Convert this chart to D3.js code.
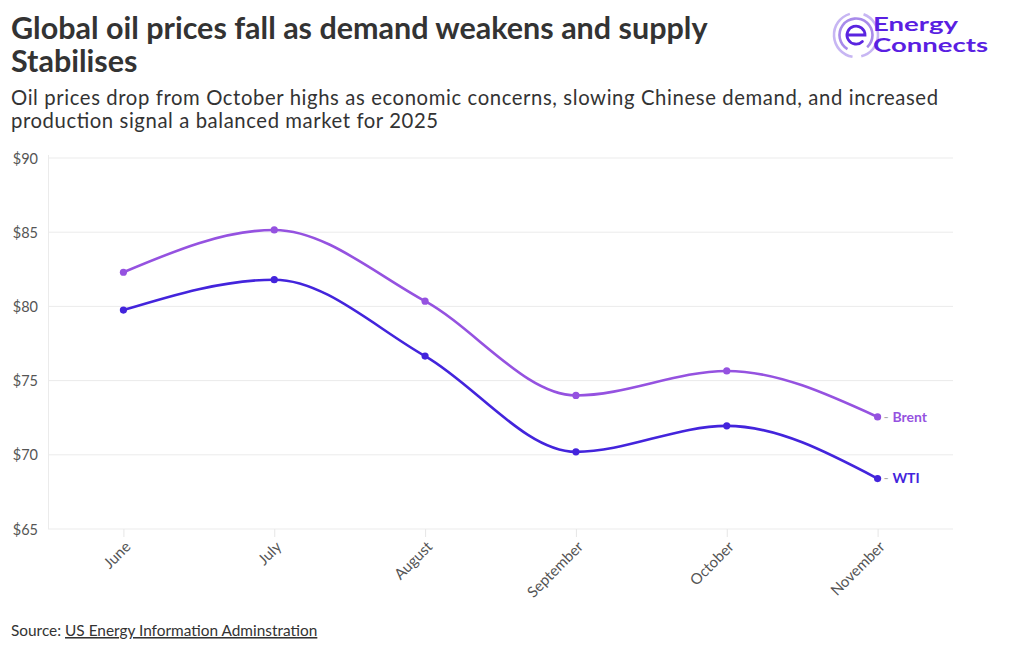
<!DOCTYPE html>
<html><head><meta charset="utf-8">
<script src="https://cdn.jsdelivr.net/npm/d3@7"></script>
<style>
body{margin:0;background:#fff;}
svg{display:block;font-family:Lato,"Noto Sans",sans-serif;}
</style></head>
<body><svg id="c" width="1020" height="650"></svg>
<script>
const months = ["June","July","August","September","October","November"];
const brent = [82.3, 85.15, 80.35, 74.0, 75.65, 72.55];
const wti = [79.75, 81.8, 76.65, 70.2, 71.95, 68.4];
const yTicks = [65,70,75,80,85,90];
const seriesNames = ["Brent","WTI"];
const colors = ["#9552e0","#4324dc"];

const svg = d3.select("#c");
const m = {l:48, r:953, t:158, b:529};

// Title
const title = svg.append("text").attr("fill","#333").attr("font-weight",700).attr("font-size",30.5);
title.append("tspan").attr("x",11).attr("y",39).text("Global oil prices fall as demand weakens and supply");
title.append("tspan").attr("x",11).attr("y",72).text("Stabilises");
const subLines = [["Oil prices drop from October highs as economic concerns, slowing Chinese demand, and increased",105,927],
                  ["production signal a balanced market for 2025",128,427]];
svg.append("g").selectAll("text").data(subLines).join("text")
  .attr("x",11).attr("y",d=>d[1]).attr("fill","#333").attr("font-size",20.3)
  .attr("textLength",d=>d[2]).attr("lengthAdjust","spacing").text(d=>d[0]);

// Logo
const lg = svg.append("g");
const cx=856, cy=35;
const arc = d3.arc();
function ring(r,w,a0,a1,col){
  lg.append("path").attr("transform",`translate(${cx},${cy})`)
    .attr("d",arc({innerRadius:r-w/2,outerRadius:r+w/2,startAngle:a0,endAngle:a1,cornerRadius:w/2}))
    .attr("fill",col);
}
ring(22,2.6,0.35,2.9,"#c7b6f3");
ring(22,2.6,3.3,6.0,"#c7b6f3");
ring(16.5,2.6,-2.6,2.4,"#a88bea");
lg.append("path").attr("d",`M${cx-8.5},${cy} L${cx+9},${cy} A9,9 0 1 0 ${cx+6.4},${cy+6.4}`)
  .attr("fill","none").attr("stroke","#5a24e0").attr("stroke-width",2.8).attr("stroke-linecap","round");
const logoWords = [["Energy",31,85],["Connects",52,115]];
svg.append("g").selectAll("text").data(logoWords).join("text")
  .attr("x",873).attr("y",d=>d[1]).attr("fill","#5a1fe2").attr("font-weight",700).attr("font-size",18)
  .attr("textLength",d=>d[2]).attr("lengthAdjust","spacingAndGlyphs").text(d=>d[0]);

// Scales
const x = d3.scalePoint().domain(months).range([m.l,m.r]).padding(0.5);
const y = d3.scaleLinear().domain([65,90]).range([m.b,m.t]);

// Grid
svg.append("g").selectAll("line").data(yTicks).join("line")
  .attr("x1",m.l).attr("x2",m.r).attr("y1",d=>y(d)).attr("y2",d=>y(d))
  .attr("stroke","#ebebeb").attr("stroke-width",1);
svg.append("line").attr("x1",m.l+0.5).attr("x2",m.l+0.5).attr("y1",m.t-3).attr("y2",m.b)
  .attr("stroke","#ebebeb");

// Y axis
const ya = svg.append("g").attr("transform",`translate(${m.l-10},0)`)
  .call(d3.axisLeft(y).tickValues(yTicks).tickSize(0).tickFormat(d=>"$"+d));
ya.select(".domain").remove();
ya.selectAll("text").attr("font-size",14.5).attr("fill","#555").attr("font-family","Lato,sans-serif").attr("x",0).attr("dy","0.35em");

// X axis
const xa = svg.append("g").attr("transform",`translate(0,${m.b})`)
  .call(d3.axisBottom(x).tickSize(8).tickPadding(0));
xa.select(".domain").remove();
xa.selectAll(".tick line").attr("stroke","#e6e6e6");
xa.selectAll("text").attr("font-size",15).attr("fill","#555").attr("font-family","Lato,sans-serif")
  .attr("text-anchor","end").attr("x",0).attr("y",0).attr("dy","0.35em")
  .attr("transform","translate(4,15) rotate(-45)");

// Lines
const line = d3.line().x((d,i)=>x(months[i])).y(d=>y(d)).curve(d3.curveMonotoneX);
[brent,wti].forEach((s,k)=>{
  svg.append("path").datum(s).attr("d",line).attr("fill","none")
    .attr("stroke",colors[k]).attr("stroke-width",2.6);
  svg.append("g").selectAll("circle").data(s).join("circle")
    .attr("cx",(d,i)=>x(months[i])).attr("cy",d=>y(d)).attr("r",3.6).attr("fill",colors[k]);
  const last = s[s.length-1];
  const t = svg.append("text").attr("x",x(months[months.length-1])+6).attr("y",y(last)).attr("dy","0.35em")
    .attr("font-size",14);
  t.append("tspan").attr("fill","#aaa").text("- ");
  t.append("tspan").attr("fill",colors[k]).attr("font-weight",700).text(seriesNames[k]);
});

// Source
const src = svg.append("text").attr("x",11).attr("y",636).attr("font-size",15.4).attr("fill","#333");
src.append("tspan").text("Source: ");
src.append("tspan").attr("text-decoration","underline").text("US Energy Information Adminstration");
</script></body></html>
